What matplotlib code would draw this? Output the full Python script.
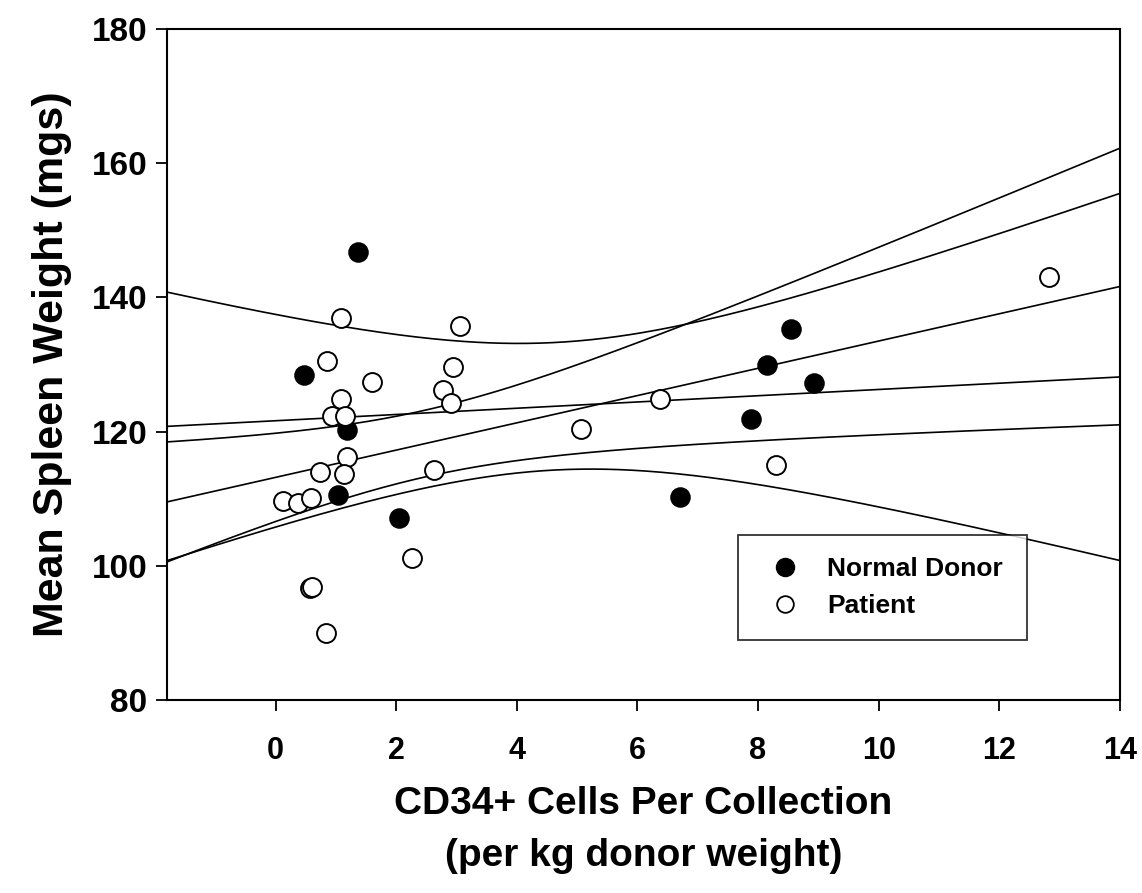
import numpy as np
import matplotlib
matplotlib.use("Agg")
import matplotlib.pyplot as plt
from matplotlib.lines import Line2D

# ---- data ----
donor_x = [0.47, 1.04, 1.18, 1.37, 2.05, 6.70, 7.88, 8.14, 8.55, 8.93]
donor_y = [128.4, 110.6, 120.2, 146.8, 107.1, 110.3, 121.9, 130.0, 135.3, 127.2]

patient_x = [1.09, 3.06, 0.85, 2.95, 1.60, 2.78, 1.09, 2.91, 0.93, 1.16,
             1.18, 0.73, 1.13, 2.62, 0.12, 0.38, 0.59, 2.26, 0.57, 0.61,
             0.84, 6.38, 8.30, 5.06, 12.82]
patient_y = [137.0, 135.7, 130.5, 129.6, 127.4, 126.2, 124.8, 124.3, 122.3, 122.4,
             116.2, 114.0, 113.7, 114.3, 109.6, 109.4, 110.1, 101.1, 96.7, 96.8,
             90.0, 124.9, 115.0, 120.4, 143.1]

x_ticks = [0, 2, 4, 6, 8, 10, 12, 14]
y_ticks = [80, 100, 120, 140, 160, 180]
legend_labels = ["Normal Donor", "Patient"]
x_label = "CD34+ Cells Per Collection\n(per kg donor weight)"
y_label = "Mean Spleen Weight (mgs)"

# two-sided 95% t critical values by degrees of freedom
T_CRIT = {8: 2.306, 23: 2.069}

plt.rcParams['font.family'] = ['Liberation Sans', 'DejaVu Sans']
plt.rcParams['font.weight'] = 'bold'

fig = plt.figure(figsize=(11.42, 8.93), dpi=100)
ax = fig.add_axes([0.1462, 0.2161, 0.8345, 0.7514])

XMIN, XMAX = -1.8, 14.0
xs = np.linspace(XMIN, XMAX, 300)


def fit_with_ci(x, y):
    x = np.asarray(x, float)
    y = np.asarray(y, float)
    n = len(x)
    b, a = np.polyfit(x, y, 1)
    resid = y - (a + b * x)
    s = np.sqrt(np.sum(resid ** 2) / (n - 2))
    mx = x.mean()
    sxx = np.sum((x - mx) ** 2)
    t = T_CRIT[n - 2]
    yhat = a + b * xs
    hw = t * s * np.sqrt(1.0 / n + (xs - mx) ** 2 / sxx)
    return yhat, yhat - hw, yhat + hw


lw = 1.2
for gx, gy in [(donor_x, donor_y), (patient_x, patient_y)]:
    yhat, lo, hi = fit_with_ci(gx, gy)
    for curve in (yhat, lo, hi):
        ax.plot(xs, curve, color='black', lw=lw, zorder=2)

ax.scatter(donor_x, donor_y, s=185, facecolor='black', edgecolor='black',
           linewidths=1.2, zorder=3)
ax.scatter(patient_x, patient_y, s=185, facecolor='white', edgecolor='black',
           linewidths=1.4, zorder=3)

ax.set_xlim(XMIN, XMAX)
ax.set_ylim(80, 180)
ax.set_xticks(x_ticks)
ax.set_yticks(y_ticks)
ax.tick_params(axis='x', direction='out', length=8, width=1.3, pad=18, labelsize=22)
ax.tick_params(axis='y', direction='out', length=8, width=1.3, pad=6, labelsize=24)
for lab in ax.get_xticklabels() + ax.get_yticklabels():
    lab.set_fontweight('bold')
for sp in ax.spines.values():
    sp.set_linewidth(1.5)

ax.set_xlabel(x_label, fontsize=28, fontweight='bold', labelpad=14, linespacing=1.6)
ax.set_ylabel(y_label, fontsize=31, fontweight='bold', labelpad=14)

handles = [
    Line2D([], [], linestyle='none', marker='o', markersize=13,
           markerfacecolor='black', markeredgecolor='black'),
    Line2D([], [], linestyle='none', marker='o', markersize=12,
           markerfacecolor='white', markeredgecolor='black', markeredgewidth=1.3),
]
leg = ax.legend(handles, legend_labels, loc='upper left',
                bbox_to_anchor=(0.599, 0.246, 0.303, 0.0), mode='expand',
                prop={'size': 19, 'weight': 'bold'}, frameon=True, fancybox=False,
                edgecolor='black', borderpad=0.84, labelspacing=0.5,
                handlelength=1.9, handletextpad=0.65, borderaxespad=0.0)
leg.get_frame().set_linewidth(1.3)

fig.savefig("out.png", dpi=100, facecolor='white')
